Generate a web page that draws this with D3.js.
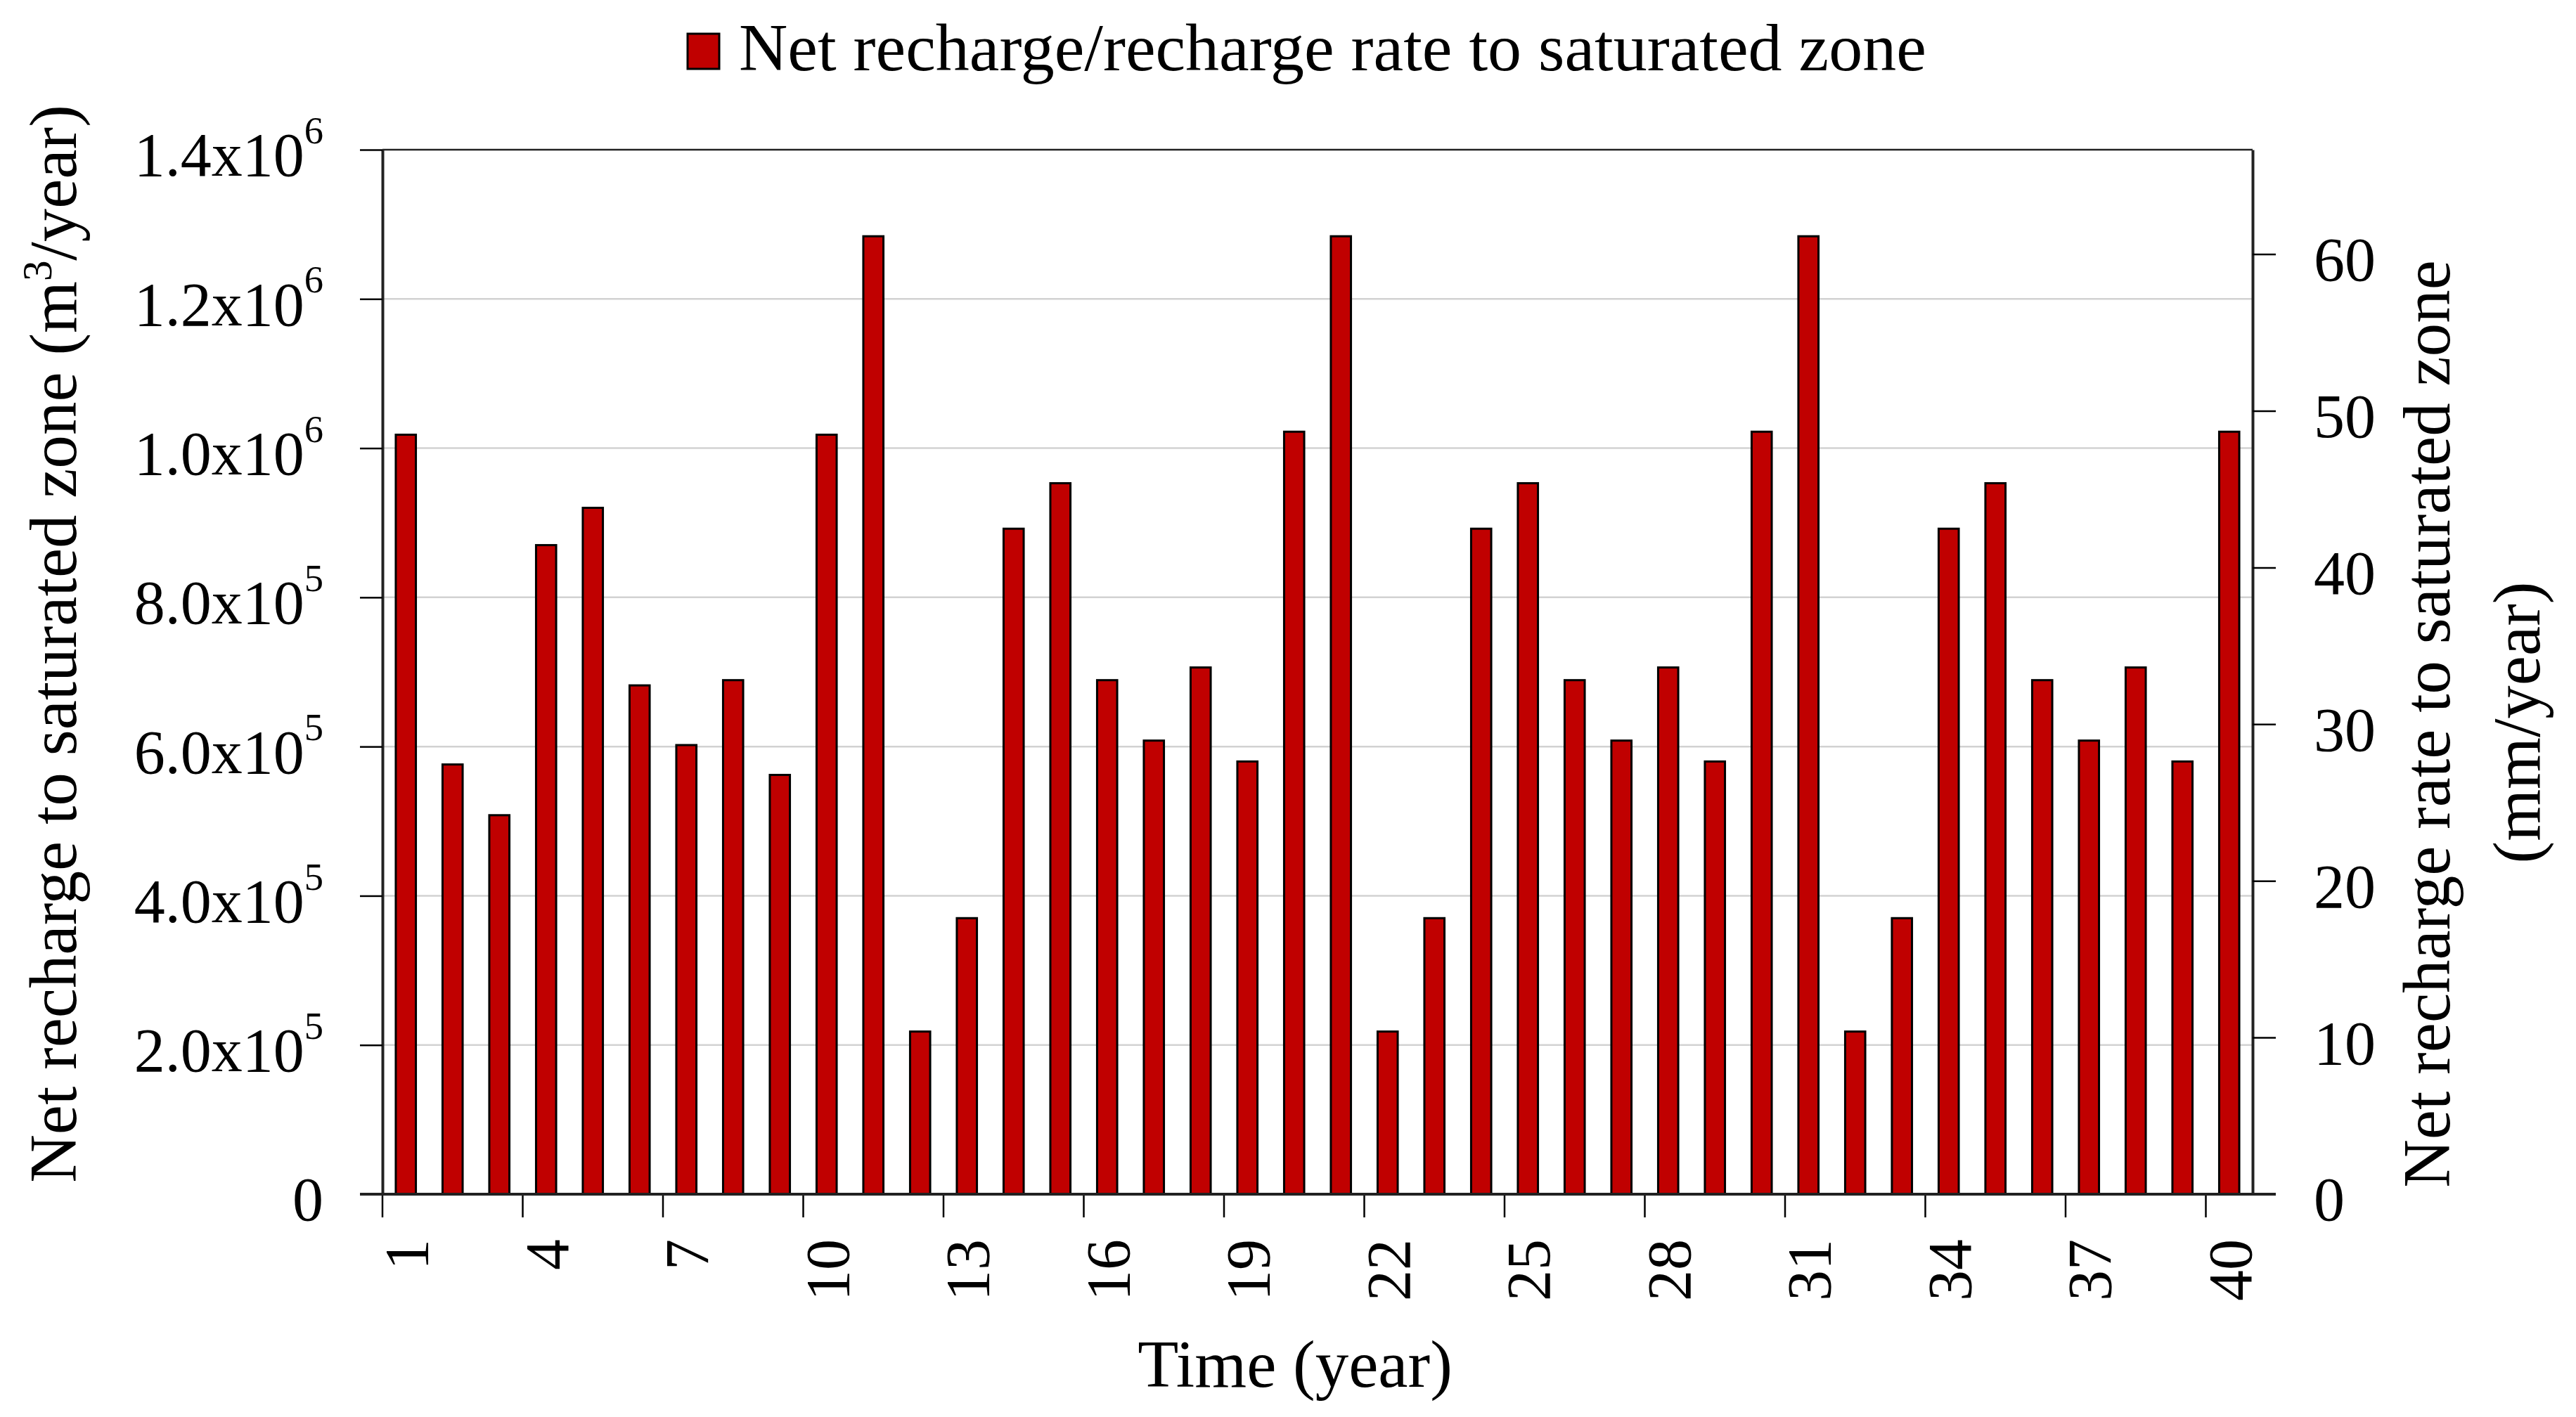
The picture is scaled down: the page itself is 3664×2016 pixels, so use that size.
<!DOCTYPE html>
<html>
<head>
<meta charset="utf-8">
<script src="https://cdn.jsdelivr.net/npm/d3@7"></script>
<style>
  body { margin: 0; background: white; }
  text { font-family: "Liberation Serif", "DejaVu Serif", serif; fill: #000; }
</style>
</head>
<body>
<div id="chart"></div>
<script>
// data
var years = d3.range(1, 41);
var recharge = [
  1018000, 576000, 508000, 870000, 920000, 682000, 602000, 689000, 562000, 1018000,
  1284000, 218000, 370000, 892000, 953000, 689000, 608000, 706000, 580000, 1022000,
  1284000, 218000, 370000, 892000, 953000, 689000, 608000, 706000, 580000, 1022000,
  1284000, 218000, 370000, 892000, 953000, 689000, 608000, 706000, 580000, 1022000
];
var leftTicks = [0, 200000, 400000, 600000, 800000, 1000000, 1200000, 1400000];
var rightTicks = [0, 10, 20, 30, 40, 50, 60];
var xTickYears = [1, 4, 7, 10, 13, 16, 19, 22, 25, 28, 31, 34, 37, 40];
var areaM2 = 21000000; // m3 -> mm conversion for the right axis

var W = 3664, H = 2016;
var plotL = 544, plotR = 3204, plotT = 213, plotB = 1699;
var fs = 88;      // tick labels
var fsTitle = 95; // titles and legend

var svg = d3.select("#chart")
    .append("svg")
    .attr("width", W)
    .attr("height", H);

svg.append("rect").attr("width", W).attr("height", H).attr("fill", "white");

var x = d3.scaleBand().domain(years).range([plotL, plotR]).padding(0);
var y = d3.scaleLinear().domain([0, 1400000]).range([plotB, plotT]);
var y2 = d3.scaleLinear().domain([0, 1400000 / areaM2 * 1000]).range([plotB, plotT]);
var bw = x.bandwidth();

// gridlines
svg.append("g")
    .selectAll("line")
    .data(leftTicks.filter(function(d) { return d > 0 && d < 1400000; }))
    .join("line")
    .attr("x1", plotL).attr("x2", plotR)
    .attr("y1", function(d) { return y(d); })
    .attr("y2", function(d) { return y(d); })
    .style("stroke", "#d2d2d2")
    .style("stroke-width", 2.5);

// top border
svg.append("line")
    .attr("x1", plotL).attr("x2", plotR)
    .attr("y1", plotT).attr("y2", plotT)
    .style("stroke", "#222").style("stroke-width", 2.5);

// bars
svg.append("g")
    .selectAll("rect")
    .data(recharge)
    .join("rect")
    .attr("x", function(d, i) { return x(years[i]) + bw * 0.285; })
    .attr("width", bw * 0.43)
    .attr("y", function(d) { return y(d); })
    .attr("height", function(d) { return y(0) - y(d); })
    .style("fill", "#c00000")
    .style("stroke", "#000")
    .style("stroke-width", 3);

// left axis
var gl = svg.append("g")
    .attr("transform", "translate(" + plotL + ",0)")
    .call(d3.axisLeft(y).tickValues(leftTicks).tickSize(32).tickPadding(52).tickSizeOuter(0));
gl.select(".domain").style("stroke", "#222").style("stroke-width", 4);
gl.selectAll(".tick line").style("stroke", "#000").style("stroke-width", 2.5);
gl.selectAll(".tick text").each(function(d) {
    var t = d3.select(this).text("").attr("font-size", fs).attr("dy", "0.42em").attr("font-family", null);
    if (d === 0) { t.text("0"); return; }
    var e = Math.floor(Math.log10(d));
    var m = d / Math.pow(10, e);
    t.append("tspan").text(m.toFixed(1) + "x10");
    t.append("tspan").text(e).attr("font-size", fs * 0.62).attr("dy", "-0.85em");
});

// right axis
var gr = svg.append("g")
    .attr("transform", "translate(" + plotR + ",0)")
    .call(d3.axisRight(y2).tickValues(rightTicks).tickSize(33).tickPadding(54).tickSizeOuter(0));
gr.select(".domain").style("stroke", "#222").style("stroke-width", 4);
gr.selectAll(".tick line").style("stroke", "#000").style("stroke-width", 2.5);
gr.selectAll(".tick text").attr("font-size", fs).attr("dy", "0.42em").attr("font-family", null);

// bottom axis: ticks at band edges, labels at band centres
var gb = svg.append("g")
    .attr("transform", "translate(0," + plotB + ")")
    .call(d3.axisBottom(x).tickValues(xTickYears).tickSize(33).tickSizeOuter(0));
gb.select(".domain").remove();
gb.selectAll(".tick line")
    .attr("x1", -bw / 2).attr("x2", -bw / 2)
    .style("stroke", "#000").style("stroke-width", 2.5);
gb.selectAll(".tick text")
    .attr("font-size", fs).attr("font-family", null)
    .attr("transform", "rotate(-90)")
    .attr("text-anchor", "end")
    .attr("x", -64).attr("y", 0).attr("dy", "0.35em");

// baseline running under both axes' zero ticks
svg.append("line")
    .attr("x1", plotL - 32).attr("x2", plotR + 33)
    .attr("y1", plotB).attr("y2", plotB)
    .style("stroke", "#222").style("stroke-width", 4);

// axis titles
svg.append("text")
    .attr("x", 1842).attr("y", 1973)
    .attr("text-anchor", "middle")
    .attr("font-size", fsTitle)
    .text("Time (year)");

var lt = svg.append("text")
    .attr("transform", "translate(108,916) rotate(-90)")
    .attr("text-anchor", "middle")
    .attr("font-size", fsTitle);
lt.append("tspan").text("Net recharge to saturated zone (m");
lt.append("tspan").text("3").attr("font-size", fsTitle * 0.62).attr("dy", "-0.6em");
lt.append("tspan").text("/year)").attr("dy", "0.37em");

svg.append("text")
    .attr("transform", "translate(3484,1030) rotate(-90)")
    .attr("text-anchor", "middle")
    .attr("font-size", fsTitle)
    .text("Net recharge rate to saturated zone");
svg.append("text")
    .attr("transform", "translate(3612,1028) rotate(-90)")
    .attr("text-anchor", "middle")
    .attr("font-size", fsTitle)
    .text("(mm/year)");

// legend
svg.append("rect")
    .attr("x", 978).attr("y", 48)
    .attr("width", 45).attr("height", 50)
    .style("fill", "#c00000").style("stroke", "#000").style("stroke-width", 3);
svg.append("text")
    .attr("x", 1051).attr("y", 100)
    .attr("font-size", 96)
    .text("Net recharge/recharge rate to saturated zone");
</script>
</body>
</html>
